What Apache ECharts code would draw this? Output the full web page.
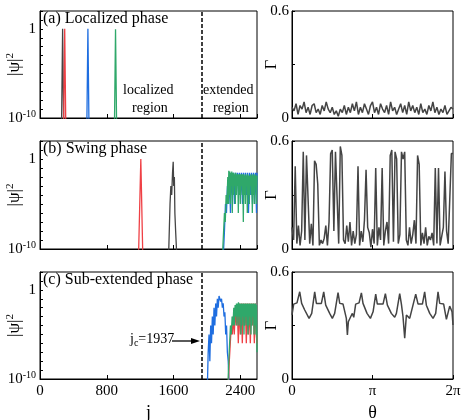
<!DOCTYPE html>
<html lang="en">
  <head>
    <meta charset="UTF-8" />
    <title>Localized, swing and sub-extended phases</title>
    <script src="https://cdnjs.cloudflare.com/ajax/libs/echarts/6.0.0/echarts.min.js"></script>
    <style>
      html, body { margin: 0; padding: 0; background: #fff; }
      #chart { width: 463px; height: 420px; }
    </style>
  </head>
  <body>
    <div id="chart"></div>
    <script>
      // ---- |psi|^2 profiles, [j, value] ----
      const blackA = [[258, 1e-11], [271, 1], [284, 1e-11]];
      const redA = [[283, 1e-11], [296, 1], [309, 1e-11]];
      const blueA = [[561, 1e-11], [574, 1], [587, 1e-11]];
      const greenA = [[892, 1e-11], [905, 0.9], [918, 1e-11]];

      const redB = [[1180, 1e-11], [1208, 1], [1232, 1e-11]];
      const blackB = [[1540, 1e-11], [1558, 1e-5], [1568, 1e-3], [1578, 1e-4], [1588, 3e-2],
        [1596, 0.5], [1602, 1e-3], [1610, 1e-2], [1616, 1e-6], [1625, 1e-8], [1640, 1e-11]];
      const blueB = [[2195, 1e-11], [2210, 1e-8], [2222, 1e-5], [2234, 1e-6], [2246, 1e-3],
        [2258, 1e-5], [2270, 2e-2], [2282, 1e-6], [2294, 2e-2], [2306, 1e-4], [2318, 3e-2],
        [2330, 1e-5], [2342, 3e-2], [2354, 1e-4], [2366, 3e-2], [2378, 1e-3], [2390, 3e-2],
        [2402, 1e-4], [2414, 3e-2], [2426, 1e-5], [2438, 3e-2], [2450, 1e-3], [2462, 3e-2],
        [2474, 1e-4], [2486, 3e-2], [2498, 1e-6], [2510, 3e-2], [2522, 1e-4], [2534, 3e-2],
        [2546, 1e-5], [2558, 3e-2], [2570, 1e-4], [2582, 3e-2], [2594, 1e-6], [2600, 3e-2]];
      const greenB = [[2185, 1e-11], [2200, 1e-8], [2210, 1e-6], [2220, 1e-7], [2230, 1e-4],
        [2240, 1e-5], [2250, 1e-2], [2256, 1e-5], [2262, 5e-2], [2268, 1e-4], [2274, 4e-2],
        [2280, 1e-5], [2286, 3e-2], [2292, 1e-3], [2298, 4e-2], [2304, 1e-6], [2310, 3e-2],
        [2316, 1e-4], [2322, 3e-2], [2328, 1e-3], [2334, 2e-2], [2340, 1e-5], [2346, 3e-2],
        [2352, 1e-4], [2358, 2e-2], [2364, 1e-3], [2370, 2e-2], [2376, 1e-6], [2382, 2e-2],
        [2388, 1e-4], [2394, 2e-2], [2400, 1e-5], [2406, 2e-2], [2412, 1e-3], [2418, 2e-2],
        [2424, 1e-4], [2430, 2e-2], [2436, 1e-7], [2442, 2e-2], [2448, 1e-4], [2454, 1.5e-2],
        [2460, 1e-5], [2466, 2e-2], [2472, 1e-3], [2478, 1.5e-2], [2484, 1e-6], [2490, 2e-2],
        [2496, 1e-4], [2502, 1.5e-2], [2508, 1e-5], [2514, 1.5e-2], [2520, 1e-3], [2526, 2e-2],
        [2532, 1e-4], [2538, 1.5e-2], [2544, 1e-6], [2550, 2e-2], [2556, 1e-4], [2562, 1.5e-2],
        [2568, 1e-5], [2574, 2e-2], [2580, 1e-3], [2586, 1.5e-2], [2592, 1e-5], [2600, 1.5e-2]];

      const blueC = [[2005, 1e-11], [2015, 1e-7], [2025, 1e-5], [2035, 1e-8], [2045, 1e-4],
        [2055, 1e-6], [2065, 1e-3], [2075, 1e-5], [2085, 1e-2], [2095, 1e-4], [2105, 3e-2],
        [2115, 1e-3], [2125, 1e-1], [2135, 1e-2], [2145, 2e-1], [2157, 2.5e-1], [2165, 5e-2],
        [2175, 1e-1], [2185, 1e-2], [2195, 3e-2], [2205, 1e-3], [2215, 3e-3], [2225, 1e-5],
        [2235, 1e-4], [2245, 1e-7], [2255, 1e-8], [2268, 1e-11]];
      const redC = [[2255, 1e-11], [2268, 1e-8], [2280, 1e-6], [2292, 1e-4], [2304, 1e-5],
        [2316, 1e-3], [2328, 1e-5], [2340, 1e-2], [2352, 1e-4], [2364, 2e-2], [2376, 1e-6],
        [2388, 3e-2], [2400, 1e-5], [2412, 3e-2], [2424, 1e-6], [2436, 3e-2], [2448, 1e-4],
        [2460, 3e-2], [2472, 1e-6], [2484, 3e-2], [2496, 1e-5], [2508, 3e-2], [2520, 1e-6],
        [2532, 3e-2], [2544, 1e-4], [2556, 3e-2], [2568, 1e-6], [2580, 3e-2], [2592, 1e-5], [2600, 1e-6]];
      const greenC = [[2250, 1e-11], [2262, 1e-8], [2272, 1e-6], [2282, 1e-4], [2292, 1e-5],
        [2302, 1e-3], [2312, 1e-4], [2322, 1e-2], [2330, 1e-4], [2338, 2e-2], [2346, 1e-3],
        [2354, 3e-2], [2360, 1e-4], [2366, 3e-2], [2372, 1e-3], [2378, 4e-2], [2384, 1e-4],
        [2390, 3e-2], [2396, 1e-3], [2402, 3e-2], [2408, 1e-5], [2414, 3e-2], [2420, 1e-4],
        [2426, 3e-2], [2432, 1e-3], [2438, 3e-2], [2444, 1e-5], [2450, 3e-2], [2456, 1e-4],
        [2462, 3e-2], [2468, 1e-3], [2474, 3e-2], [2480, 1e-4], [2486, 3e-2], [2492, 1e-5],
        [2498, 3e-2], [2504, 1e-4], [2510, 3e-2], [2516, 1e-3], [2522, 3e-2], [2528, 1e-5],
        [2534, 3e-2], [2540, 1e-4], [2546, 3e-2], [2552, 1e-3], [2558, 3e-2], [2564, 1e-5],
        [2570, 3e-2], [2576, 1e-4], [2582, 3e-2], [2588, 1e-5], [2594, 2e-2], [2600, 1e-7]];

      const jc = 1937;

      // ---- Gamma vs theta (theta in units of pi) ----
      const gammaA = [
        0.06, 0.04, 0.08, 0.02, 0.07, 0.05, 0.09, 0.03, 0.06, 0.02,
        0.07, 0.08, 0.03, 0.05, 0.02, 0.07, 0.04, 0.09, 0.05, 0.03,
        0.06, 0.02, 0.04, 0.01, 0.05, 0.03, 0.07, 0.02, 0.06, 0.03,
        0.08, 0.04, 0.09, 0.02, 0.06, 0.03, 0.08, 0.05, 0.02, 0.07,
        0.09, 0.03, 0.06, 0.02, 0.08, 0.05, 0.03, 0.07, 0.02, 0.09,
        0.04, 0.06, 0.02, 0.05, 0.08, 0.03, 0.07, 0.02, 0.09, 0.04,
        0.07, 0.03, 0.06, 0.02, 0.08, 0.03, 0.05, 0.02, 0.07, 0.04,
        0.09, 0.03, 0.06, 0.02, 0.05, 0.03, 0.07, 0.02, 0.04, 0.06,
        0.05];
      const gammaB = [
        0.12, 0.05, 0.46, 0.03, 0.13, 0.02, 0.10, 0.54, 0.05, 0.52,
        0.52, 0.03, 0.14, 0.02, 0.49, 0.47, 0.36, 0.02, 0.05, 0.03,
        0.06, 0.13, 0.02, 0.15, 0.53, 0.55, 0.10, 0.54, 0.55, 0.03,
        0.57, 0.52, 0.05, 0.03, 0.13, 0.04, 0.15, 0.02, 0.10, 0.03,
        0.08, 0.46, 0.02, 0.10, 0.04, 0.16, 0.44, 0.12, 0.09, 0.01,
        0.11, 0.03, 0.45, 0.02, 0.12, 0.05, 0.45, 0.02, 0.10, 0.15,
        0.03, 0.52, 0.55, 0.04, 0.54, 0.50, 0.03, 0.08, 0.54, 0.50,
        0.54, 0.05, 0.02, 0.12, 0.03, 0.08, 0.16, 0.03, 0.52, 0.47,
        0.02, 0.09, 0.03, 0.12, 0.02, 0.07, 0.05, 0.09, 0.02, 0.45,
        0.03, 0.45, 0.02, 0.07, 0.12, 0.43, 0.10, 0.03, 0.04, 0.53,
        0.53];
      const thetaC = [
        0, 0.005, 0.021, 0.062, 0.096, 0.12, 0.158, 0.212, 0.245, 0.282,
        0.303, 0.365, 0.394, 0.419, 0.468, 0.501, 0.53, 0.572, 0.593, 0.634,
        0.675, 0.688, 0.70, 0.729, 0.75, 0.767, 0.791, 0.833, 0.862, 0.882,
        0.932, 0.974, 1.007, 1.04, 1.06, 1.131, 1.16, 1.185, 1.234, 1.276,
        1.297, 1.338, 1.359, 1.379, 1.40, 1.421, 1.462, 1.503, 1.537, 1.566,
        1.62, 1.648, 1.669, 1.711, 1.752, 1.785, 1.814, 1.835, 1.884, 1.918,
        1.942, 1.959, 1.988, 2.0];
      const gammaC = [
        0.36, 0.36, 0.42, 0.427, 0.489, 0.424, 0.387, 0.34, 0.368, 0.489,
        0.424, 0.424, 0.489, 0.414, 0.368, 0.34, 0.368, 0.485, 0.424, 0.42,
        0.34, 0.247, 0.321, 0.349, 0.368, 0.346, 0.42, 0.427, 0.483, 0.424,
        0.368, 0.34, 0.377, 0.476, 0.42, 0.42, 0.479, 0.414, 0.368, 0.346,
        0.368, 0.479, 0.42, 0.349, 0.229, 0.359, 0.34, 0.414, 0.476, 0.42,
        0.42, 0.489, 0.414, 0.368, 0.34, 0.368, 0.489, 0.424, 0.42, 0.334,
        0.34, 0.409, 0.377, 0.303];

      const panelTitles = ["(a) Localized phase", "(b) Swing phase", "(c) Sub-extended phase"];

      const FONT = "'Liberation Serif', 'DejaVu Serif', serif";
      const RED = "#ef4045", BLUE = "#1f6ee0", GREEN = "#2fa86a", DARK = "#444444";

      const chart = echarts.init(document.getElementById("chart"));

      const tops = [11, 141, 272];
      const heights = [107, 108, 107];
      const grids = [];
      const gridBase = { show: true, borderColor: "#000", borderWidth: 1, containLabel: false, outerBoundsMode: "none" };
      tops.forEach((t, i) => grids.push(Object.assign({ left: 40, top: t, width: 217, height: heights[i] }, gridBase)));
      tops.forEach((t, i) => grids.push(Object.assign({ left: 292, top: t, width: 161, height: heights[i] }, gridBase)));

      const supRich = {
        sup: { fontSize: 10, fontFamily: FONT, color: "#000", padding: [0, 0, 8, 0] },
        sub: { fontSize: 10, fontFamily: FONT, color: "#000", padding: [8, 0, 0, 0] }
      };

      const xAxes = [], yAxes = [];
      for (let i = 0; i < 3; i++) {
        xAxes.push({
          type: "value", gridIndex: i, min: 0, max: 2600, interval: 800,
          axisLine: { lineStyle: { color: "#000", width: 1 } },
          axisTick: { inside: true, length: 4, lineStyle: { color: "#000" } },
          axisLabel: { show: i === 2, fontFamily: FONT, fontSize: 15, color: "#000", margin: 5, formatter: v => String(v) },
          splitLine: { show: false },
          name: i === 2 ? "j" : "", nameLocation: "middle", nameGap: 25, nameMoveOverlap: false,
          nameTextStyle: { fontFamily: FONT, fontSize: 18, color: "#000" }
        });
        yAxes.push({
          type: "log", logBase: 10, gridIndex: i, min: 1e-10, max: 100, interval: 1,
          axisLine: { lineStyle: { color: "#000", width: 1 } },
          axisTick: { inside: true, length: 3, lineStyle: { color: "#000" } },
          axisLabel: {
            fontFamily: FONT, fontSize: 15, color: "#000", margin: 4,
            formatter: v => {
              const e = Math.round(Math.log10(v));
              if (e === 0) return "1";
              if (e === -10) return "10{sup|-10}";
              return "";
            },
            rich: supRich
          },
          splitLine: { show: false },
          name: "|ψ|{sup|2}", nameLocation: "middle", nameGap: 16, nameRotate: 90, nameMoveOverlap: false,
          nameTextStyle: { fontFamily: FONT, fontSize: 17, color: "#000", rich: { sup: { fontSize: 11, fontFamily: FONT, padding: [0, 0, 8, 0] } } }
        });
      }
      for (let i = 0; i < 3; i++) {
        xAxes.push({
          type: "value", gridIndex: 3 + i, min: 0, max: 2, interval: 1,
          axisLine: { lineStyle: { color: "#000", width: 1 } },
          axisTick: { inside: true, length: 4, lineStyle: { color: "#000" } },
          axisLabel: {
            show: i === 2, fontFamily: FONT, fontSize: 15, color: "#000", margin: 5,
            formatter: v => (v === 0 ? "0" : v === 1 ? "π" : "2π")
          },
          splitLine: { show: false },
          name: i === 2 ? "θ" : "", nameLocation: "middle", nameGap: 25, nameMoveOverlap: false,
          nameTextStyle: { fontFamily: FONT, fontSize: 18, color: "#000" }
        });
        yAxes.push({
          type: "value", gridIndex: 3 + i, min: 0, max: 0.6, interval: 0.3,
          axisLine: { lineStyle: { color: "#000", width: 1 } },
          axisTick: { inside: true, length: 3, lineStyle: { color: "#000" } },
          axisLabel: {
            fontFamily: FONT, fontSize: 15, color: "#000", margin: 3,
            formatter: v => (v === 0 ? "0" : Math.abs(v - 0.6) < 1e-6 ? "0.6" : "")
          },
          splitLine: { show: false },
          name: "Γ", nameLocation: "middle", nameGap: 12, nameRotate: 90, nameMoveOverlap: false,
          nameTextStyle: { fontFamily: FONT, fontSize: 17, color: "#000" }
        });
      }

      const line = (data, color, idx, width) => ({
        type: "line", data: data, xAxisIndex: idx, yAxisIndex: idx,
        showSymbol: false, symbol: "none", silent: true, animation: false,
        lineStyle: { color: color, width: width || 1.3 }
      });
      const dashed = idx => ({
        type: "line", data: [], xAxisIndex: idx, yAxisIndex: idx, silent: true,
        markLine: {
          silent: true, symbol: "none", animation: false, label: { show: false },
          lineStyle: { color: "#000", type: [4, 2], width: 1.5 },
          data: [{ xAxis: jc }]
        }
      });

      const thetaA = gammaA.map((_, i) => (2 * i) / (gammaA.length - 1));
      const thetaB = gammaB.map((_, i) => (2 * i) / (gammaB.length - 1));
      const zip = (xs, ys) => xs.map((x, i) => [x, ys[i]]);

      const series = [
        dashed(0), dashed(1), dashed(2),
        line(blackA, DARK, 0), line(redA, RED, 0), line(blueA, BLUE, 0), line(greenA, GREEN, 0),
        line(redB, RED, 1), line(blackB, DARK, 1), line(blueB, BLUE, 1), line(greenB, GREEN, 1),
        line(blueC, BLUE, 2), line(redC, RED, 2), line(greenC, GREEN, 2),
        line(zip(thetaA, gammaA), DARK, 3, 1.5),
        line(zip(thetaB, gammaB), DARK, 4, 1.5),
        line(zip(thetaC, gammaC), DARK, 5, 1.5)
      ];

      const txt = (text, left, top, size, extra) => Object.assign({
        type: "text", left: left, top: top, silent: true,
        style: { text: text, fontFamily: FONT, fontSize: size, fill: "#000", rich: supRich }
      }, extra || {});

      const graphic = [
        txt(panelTitles[0], 43, 11, 16),
        txt(panelTitles[1], 43, 141, 16),
        txt(panelTitles[2], 43, 272, 16),
        txt("localized", 123, 83, 14),
        txt("region", 132, 101, 14),
        txt("extended", 203, 83, 14),
        txt("region", 213, 101, 14),
        txt("j{sub|c}=1937", 130, 332, 14),
        { type: "line", silent: true, shape: { x1: 172, y1: 341, x2: 194, y2: 341 }, style: { stroke: "#000", lineWidth: 1.3 } },
        { type: "polygon", silent: true, shape: { points: [[200, 341], [191, 338], [191, 344]] }, style: { fill: "#000" } }
      ];

      chart.setOption({
        animation: false,
        backgroundColor: "#fff",
        grid: grids,
        xAxis: xAxes,
        yAxis: yAxes,
        series: series,
        graphic: graphic
      });
    </script>
  </body>
</html>
